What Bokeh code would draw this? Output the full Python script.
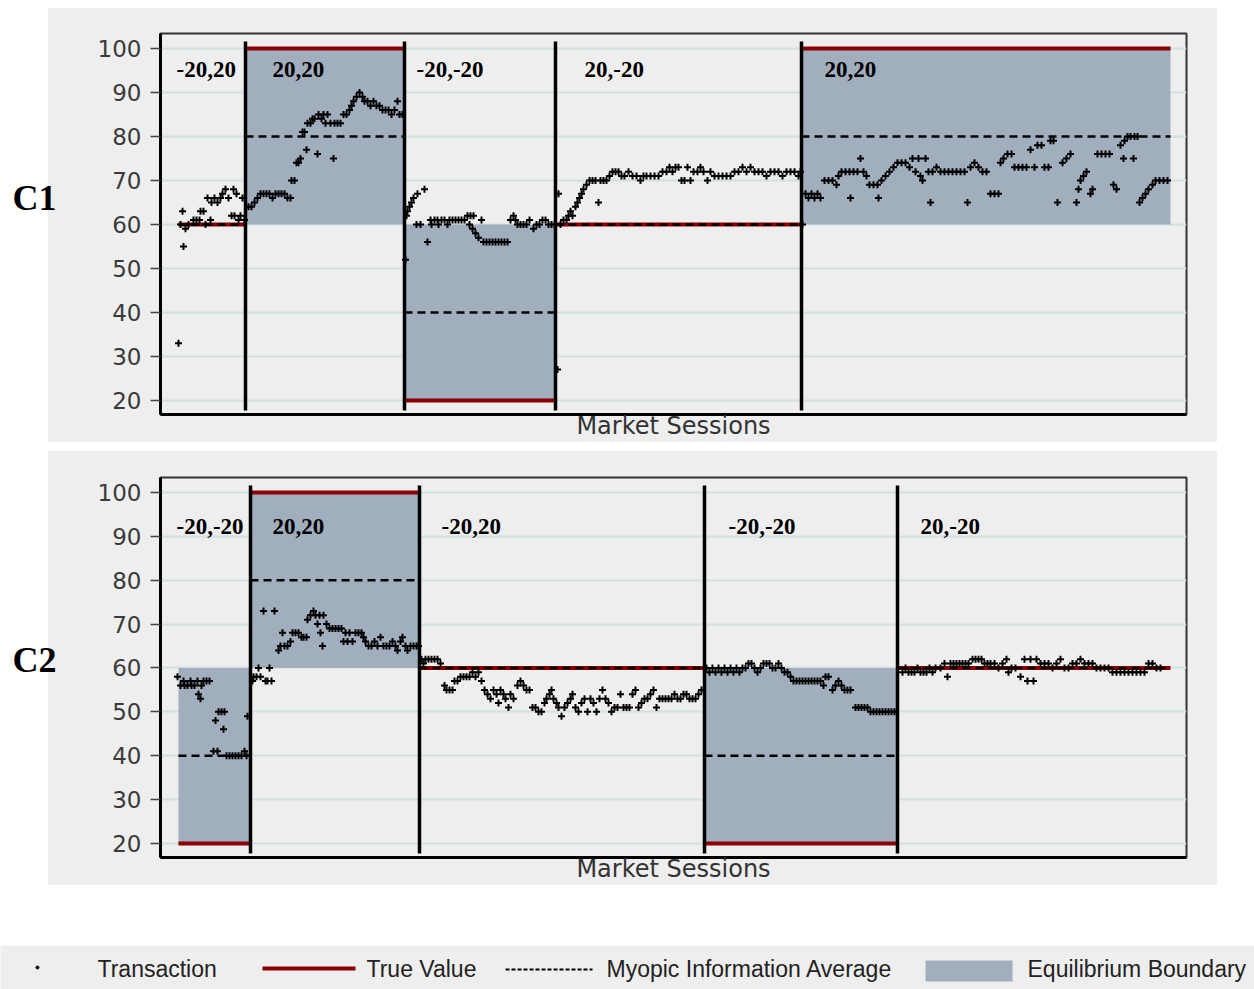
from bokeh.plotting import figure
from bokeh.layouts import column, row
from bokeh.models import Spacer, FixedTicker, Range1d
from bokeh.core.properties import value
from bokeh.embed import file_html
from bokeh.resources import INLINE

# ---------------- data ----------------
y_ticks = [20, 30, 40, 50, 60, 70, 80, 90, 100]

# Panel C1 sessions
c1_labels = ["-20,20", "20,20", "-20,-20", "20,-20", "20,20"]
c1_starts = [18, 85, 244, 395, 641]
c1_ends = [85, 244, 395, 641, 1010]
c1_true = [60, 100, 20, 60, 100]
c1_myopic = [60, 80, 40, 60, 80]
c1_eq_lo = [60, 60, 20, 60, 60]
c1_eq_hi = [60, 100, 60, 60, 100]

c1_tx_x = ([18, 20, 22, 23, 25, 28, 33, 36, 39, 40, 43, 45, 47, 50, 51, 54, 57, 60, 62, 65, 68, 71, 73, 74, 76, 78, 80, 82, 84]
           + [88, 91, 94, 97, 100, 103, 106, 109, 112, 115, 118, 121, 124, 127, 130, 131, 134, 136, 138, 140, 142, 144, 146, 147, 150,
              152, 154, 157, 158, 161, 163, 165, 167, 170, 173, 174, 177, 180, 183, 186, 189, 191, 193, 196, 199, 202, 204, 207, 210,
              213, 216, 219, 222, 225, 228, 231, 234, 237, 239, 242]
           + [245, 246, 247, 249, 251, 253, 256, 257, 260, 264, 267, 270, 271, 274, 277, 278, 281, 284, 287, 289, 292, 295, 298, 301,
              304, 307, 309, 310, 312, 313, 315, 318, 321, 323, 326, 329, 332, 335, 338, 341, 344, 347, 350, 353, 355, 357, 360, 363,
              366, 369, 373, 376, 379, 382, 385, 388, 391, 394]
           + [397, 398, 400, 403, 406, 408, 410, 412, 415, 417, 419, 421, 423, 426, 429, 432, 435, 438, 440, 443, 446, 449, 452, 455,
              458, 461, 464, 468, 472, 476, 480, 483, 486, 490, 494, 498, 502, 506, 509, 512, 515, 518, 521, 524, 527, 530, 533, 537,
              540, 543, 547, 550, 554, 558, 562, 566, 570, 574, 578, 582, 586, 590, 594, 598, 602, 606, 610, 614, 618, 622, 626, 630,
              634, 638, 640]
           + [642, 645, 648, 651, 654, 657, 660, 664, 668, 672, 676, 678, 681, 685, 689, 690, 693, 697, 700, 703, 706, 709, 713, 717,
              718, 721, 725, 729, 733, 737, 741, 745, 749, 752, 755, 758, 760, 762, 765, 768, 770, 772, 776, 780, 784, 788, 792, 796,
              800, 804, 807, 810, 814, 818, 822, 826, 830, 834, 838, 840, 843, 847, 851, 854, 858, 862, 866, 870, 874, 877, 881, 884,
              888, 890, 893, 897, 902, 906, 910, 916, 918, 920, 923, 926, 930, 932, 937, 941, 945, 949, 953, 956, 960, 963, 964, 967,
              970, 973, 974, 977, 979, 982, 985, 988, 992, 995, 999, 1003, 1007])
c1_tx_y = ([33, 60, 63, 55, 59, 60, 61, 61, 61, 63, 63, 60, 66, 61, 65, 66, 65, 66, 67, 68, 66, 62, 68, 62, 67, 61, 62, 66, 61]
           + [64, 64, 65, 66, 67, 67, 67, 67, 66, 67, 67, 67, 67, 66, 66, 70, 70, 74, 74, 75, 81, 81, 77, 83, 83, 84, 84, 76, 85, 84,
              85, 83, 85, 83, 75, 83, 83, 83, 85, 85, 86, 87, 88, 89, 90, 89, 88, 88, 87, 88, 87, 87, 86, 86, 86, 85, 86, 88, 85, 85]
           + [52, 62, 63, 64, 65, 66, 60, 67, 60, 68, 56, 61, 60, 61, 61, 60, 61, 61, 60, 61, 61, 61, 61, 61, 61, 62, 60, 62, 59, 62,
              58, 57, 61, 56, 56, 56, 56, 56, 56, 56, 56, 56, 61, 62, 61, 60, 60, 60, 60, 61, 59, 60, 60, 61, 61, 60, 60, 60]
           + [27, 67, 60, 61, 61, 62, 63, 62, 64, 65, 66, 67, 68, 69, 70, 70, 70, 65, 70, 70, 70, 71, 72, 72, 72, 71, 71, 72, 71, 71,
              70, 71, 71, 71, 71, 71, 72, 72, 73, 72, 73, 73, 70, 70, 73, 70, 72, 72, 73, 72, 70, 72, 71, 71, 71, 71, 71, 72, 72, 73,
              72, 73, 72, 72, 72, 71, 72, 72, 72, 71, 72, 72, 72, 71, 72]
           + [60, 67, 66, 67, 66, 67, 66, 70, 70, 70, 69, 71, 72, 72, 72, 66, 72, 72, 75, 72, 71, 69, 69, 69, 66, 70, 71, 72, 73, 74,
              74, 74, 73, 75, 72, 75, 71, 70, 75, 72, 65, 72, 73, 72, 72, 72, 72, 72, 72, 72, 65, 73, 74, 73, 72, 72, 67, 67, 67, 74,
              75, 76, 76, 73, 73, 73, 73, 77, 73, 78, 78, 73, 73, 79, 79, 65, 74, 75, 76, 65, 68, 70, 71, 72, 67, 68, 76, 76, 76, 76,
              69, 68, 78, 75, 79, 80, 80, 75, 80, 80, 65, 66, 67, 68, 69, 70, 70, 70, 70])

# Panel C2 sessions
c2_labels = ["-20,-20", "20,20", "-20,20", "-20,-20", "20,-20"]
c2_starts = [18, 90, 259, 544, 737]
c2_ends = [90, 259, 544, 737, 1010]
c2_true = [20, 100, 60, 20, 60]
c2_myopic = [40, 80, 60, 40, 60]
c2_eq_lo = [20, 60, 60, 20, 60]
c2_eq_hi = [60, 100, 60, 60, 60]

c2_tx_x = ([17, 20, 23, 24, 27, 30, 31, 34, 37, 38, 40, 41, 43, 46, 49, 53, 55, 57, 58, 61, 63, 64, 66, 69, 72, 75, 78, 81, 84, 86, 87]
           + [92, 93, 96, 98, 100, 103, 105, 107, 109, 111, 114, 118, 120, 122, 124, 127, 130, 132, 135, 138, 141, 143, 146, 147, 150,
              153, 155, 157, 159, 160, 162, 163, 166, 169, 172, 175, 178, 181, 183, 185, 187, 189, 192, 195, 198, 201, 203, 205, 208,
              211, 214, 217, 220, 223, 226, 229, 232, 235, 237, 240, 242, 245, 247, 250, 253, 256, 258]
           + [261, 263, 265, 268, 271, 274, 277, 280, 284, 286, 289, 292, 294, 297, 300, 303, 306, 309, 312, 315, 318, 321, 324, 327,
              330, 333, 336, 338, 340, 343, 345, 348, 350, 353, 357, 360, 363, 366, 369, 372, 375, 378, 381, 384, 386, 389, 391, 393,
              396, 398, 401, 404, 407, 410, 412, 415, 418, 421, 424, 427, 430, 433, 436, 439, 442, 445, 448, 451, 454, 457, 460, 463,
              466, 469, 472, 475, 478, 481, 484, 487, 490, 493, 496, 499, 502, 505, 508, 511, 514, 517, 520, 523, 526, 529, 532, 535,
              538, 541]
           + [546, 549, 552, 555, 558, 561, 564, 567, 570, 573, 576, 579, 582, 585, 588, 591, 594, 597, 600, 603, 606, 609, 612, 615,
              618, 621, 624, 627, 630, 633, 636, 639, 642, 645, 648, 651, 654, 657, 660, 663, 665, 668, 672, 675, 678, 681, 684, 687,
              690, 695, 698, 701, 704, 707, 710, 713, 716, 719, 722, 725, 728, 731, 734]
           + [742, 745, 748, 751, 754, 757, 760, 763, 766, 769, 772, 775, 780, 784, 787, 790, 793, 796, 799, 802, 805, 808, 812, 815,
              818, 821, 824, 827, 830, 834, 838, 842, 846, 848, 851, 855, 860, 864, 867, 870, 873, 876, 880, 884, 888, 892, 896, 900,
              904, 908, 912, 916, 920, 924, 928, 932, 936, 940, 944, 948, 952, 956, 960, 964, 968, 972, 976, 980, 984, 988, 992, 996,
              1000])
c2_tx_y = ([58, 56, 57, 56, 56, 57, 56, 56, 57, 54, 53, 56, 57, 57, 57, 41, 48, 41, 50, 50, 46, 50, 40, 40, 40, 40, 40, 40, 41, 40, 49]
           + [57, 58, 58, 60, 58, 73, 57, 57, 60, 57, 73, 64, 65, 68, 65, 65, 66, 68, 68, 68, 67, 67, 67, 71, 72, 73, 72, 70, 72, 68,
              65, 72, 70, 69, 69, 69, 69, 69, 66, 68, 66, 68, 66, 68, 68, 68, 67, 66, 65, 65, 66, 65, 67, 65, 65, 65, 66, 65, 64, 66,
              67, 65, 64, 65, 65, 65, 65]
           + [62, 61, 62, 62, 62, 62, 62, 61, 56, 55, 55, 55, 57, 57, 58, 58, 58, 58, 59, 58, 59, 57, 55, 54, 53, 55, 54, 52, 55, 54,
              53, 51, 54, 53, 56, 57, 56, 55, 55, 51, 51, 50, 50, 52, 53, 54, 55, 53, 52, 51, 49, 51, 52, 53, 54, 51, 50, 52, 53, 50,
              53, 52, 50, 53, 55, 53, 52, 50, 51, 51, 54, 51, 51, 51, 54, 55, 51, 52, 53, 53, 54, 55, 51, 53, 53, 53, 53, 53, 54, 53,
              53, 54, 54, 53, 53, 53, 54, 55]
           + [60, 59, 60, 59, 60, 59, 60, 59, 60, 59, 60, 59, 60, 60, 61, 61, 60, 59, 60, 61, 61, 61, 60, 60, 61, 60, 59, 59, 58, 57,
              57, 57, 57, 57, 57, 57, 57, 57, 57, 56, 58, 58, 55, 56, 57, 56, 55, 55, 55, 51, 51, 51, 51, 51, 50, 50, 50, 50, 50, 50,
              50, 50, 50]
           + [59, 60, 59, 59, 59, 60, 59, 59, 59, 60, 59, 60, 60, 61, 58, 61, 61, 61, 61, 61, 61, 61, 62, 62, 62, 62, 61, 61, 61, 61,
              60, 61, 62, 59, 60, 60, 58, 62, 57, 62, 57, 62, 61, 61, 61, 60, 61, 62, 60, 60, 61, 61, 62, 61, 61, 61, 60, 60, 60, 60,
              59, 59, 59, 59, 59, 59, 59, 59, 59, 61, 61, 60, 60])

legend_labels = ["Transaction", "True Value", "Myopic Information Average", "Equilibrium Boundary"]

# ---------------- style ----------------
PANEL_BG = "#eeeeee"
EQ_COLOR = "#a1aebd"
TRUE_COLOR = "#8b0000"
GRID_COLOR = "#d3dfe1"
SANS = "DejaVu Sans"
SERIF = "Liberation Serif"
c1_label_dx = [-2, 27, 12, 29, 23]
c2_label_dx = [-2, 22, 22, 24, 23]


def make_panel(height, top_border, starts, ends, true_v, myopic, eq_lo, eq_hi,
               tx_x, tx_y, labels, label_dx, label_y):
    p = figure(width=1170, height=height, x_range=Range1d(0, 1026), y_range=Range1d(16.8, 103.4),
               output_backend="svg", toolbar_location=None,
               min_border_left=113, min_border_right=31, min_border_top=top_border,
               min_border_bottom=20,
               background_fill_color=PANEL_BG, border_fill_color=PANEL_BG)
    p.margin = (0, 0, 0, -13)
    p.outline_line_color = "#333333"
    p.outline_line_width = 2
    p.xgrid.visible = False
    p.ygrid.ticker = FixedTicker(ticks=y_ticks)
    p.ygrid.grid_line_color = GRID_COLOR
    p.ygrid.grid_line_width = 2

    ya = p.yaxis[0]
    ya.ticker = FixedTicker(ticks=y_ticks)
    ya.major_label_text_font = SANS
    ya.major_label_text_font_size = "23px"
    ya.major_label_text_color = "#3a3a3a"
    ya.major_label_standoff = 9
    ya.major_tick_out = 10
    ya.major_tick_in = 0
    ya.major_tick_line_color = "#444444"
    ya.major_tick_line_width = 1.5
    ya.minor_tick_line_color = None
    ya.axis_line_color = "black"
    ya.axis_line_width = 3

    xa = p.xaxis[0]
    xa.ticker = FixedTicker(ticks=[])
    xa.major_tick_out = 0
    xa.major_tick_in = 0
    xa.major_label_standoff = 0
    xa.minor_tick_line_color = None
    xa.axis_label = "Market Sessions"
    xa.axis_label_text_font = SANS
    xa.axis_label_text_font_size = "24px"
    xa.axis_label_text_font_style = "normal"
    xa.axis_label_text_color = "#333333"
    xa.axis_label_standoff = -3
    xa.axis_line_color = "black"
    xa.axis_line_width = 3

    # equilibrium boundary shading
    p.quad(left=starts, right=ends, bottom=eq_lo, top=eq_hi, fill_color=EQ_COLOR, line_color=None)
    # true value
    p.segment(x0=starts, x1=ends, y0=true_v, y1=true_v, line_color=TRUE_COLOR, line_width=4)
    # myopic information average
    p.segment(x0=starts, x1=ends, y0=myopic, y1=myopic, line_color="black", line_width=2.5, line_dash="8 5")
    # session separators
    breaks = starts[1:]
    p.segment(x0=breaks, x1=breaks, y0=[17.7] * len(breaks), y1=[101.6] * len(breaks),
              line_color="black", line_width=3.5)
    # transactions
    p.scatter(tx_x, tx_y, marker="cross", size=7, line_color="black", line_width=2)
    # session labels
    p.text(x=[s + d for s, d in zip(starts, label_dx)], y=[label_y] * len(labels), text=labels,
           text_font=value(SERIF), text_font_style="bold", text_font_size="23px",
           text_baseline="middle", text_align="left", text_color="black")
    return p


def make_side(height, text, text_y):
    f = figure(width=60, height=height, x_range=Range1d(0, 60), y_range=Range1d(0, height),
               output_backend="svg", toolbar_location=None, x_axis_location=None, y_axis_location=None,
               min_border=0, background_fill_color=None, border_fill_color=None)
    f.outline_line_color = None
    f.grid.visible = False
    f.styles = {"z-index": "10"}
    f.text(x=[12], y=[text_y], text=[text], text_font=value(SERIF), text_font_style="bold",
           text_font_size="36px", text_baseline="middle", text_align="left", text_color="black")
    return f


H = 435
p1 = make_panel(H, 26, c1_starts, c1_ends, c1_true, c1_myopic, c1_eq_lo, c1_eq_hi,
                c1_tx_x, c1_tx_y, c1_labels, c1_label_dx, 95.2)
p2 = make_panel(H, 27, c2_starts, c2_ends, c2_true, c2_myopic, c2_eq_lo, c2_eq_hi,
                c2_tx_x, c2_tx_y, c2_labels, c2_label_dx, 92.3)
s1 = make_side(H, "C1", H - 188)
s2 = make_side(H, "C2", H - 209)

# legend strip
lg = figure(width=1254, height=44, x_range=Range1d(0, 1254), y_range=Range1d(0, 44),
            output_backend="svg", toolbar_location=None, x_axis_location=None, y_axis_location=None,
            min_border=0, background_fill_color=PANEL_BG, border_fill_color=PANEL_BG)
lg.outline_line_color = None
lg.grid.visible = False
lg.scatter([37], [22], marker="circle", size=3, color="black")
lg.segment(x0=[262], x1=[355], y0=[21], y1=[21], line_color=TRUE_COLOR, line_width=4)
lg.segment(x0=[505], x1=[592], y0=[20], y1=[20], line_color="black", line_width=2, line_dash="4 2")
lg.quad(left=[925], right=[1012], bottom=[8], top=[29], fill_color=EQ_COLOR, line_color=None)
lg.text(x=[97, 366, 606, 1027], y=[21] * 4, text=legend_labels, text_font=value("Liberation Sans"),
        text_font_size="23px", text_baseline="middle", text_align="left", text_color="#222222")

layout = column(Spacer(height=7), row(s1, p1), Spacer(height=450 - 7 - H),
                row(s2, p2), Spacer(height=945 - 450 - H), lg)

open("out.html", "w").write(file_html(layout, INLINE))
